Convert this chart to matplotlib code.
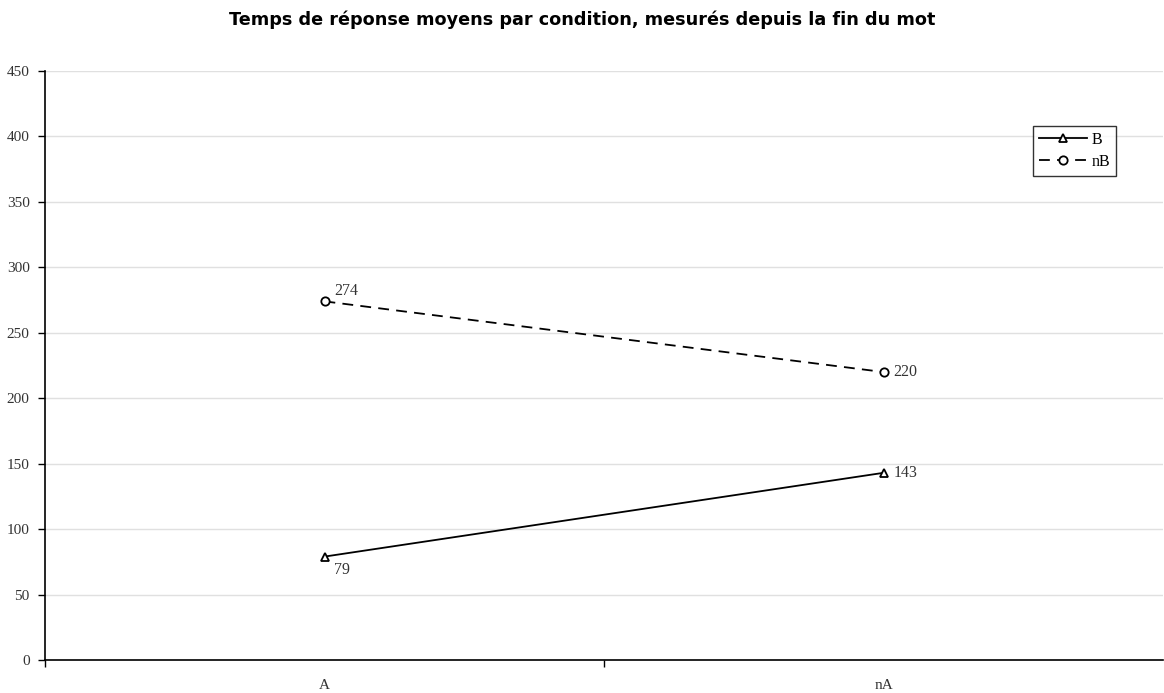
import matplotlib
matplotlib.use("Agg")
import matplotlib.pyplot as plt

categories = ["A", "nA"]
series_B = [79, 143]
series_nB = [274, 220]
yticks = [0, 50, 100, 150, 200, 250, 300, 350, 400, 450]

fig = plt.figure(figsize=(11.64, 6.93), dpi=100)
ax = fig.add_axes([45/1164, 1-660/693, (1163-45)/1164, (660-71)/693])

serif = "Liberation Serif"
x = list(range(len(categories)))
ax.plot(x, series_B, color="black", lw=1.3, marker="^", ms=6, mfc="white", mec="black", mew=1.3, label="B")
ax.plot(x, series_nB, color="black", lw=1.3, ls=(0, (6, 4)), marker="o", ms=6, mfc="white", mec="black", mew=1.3, label="nB")

lab = dict(textcoords="offset points", fontsize=11.5, family=serif, color="#333333")
ax.annotate(str(series_nB[0]), (x[0], series_nB[0]), xytext=(7, 2), va="bottom", ha="left", **lab)
ax.annotate(str(series_B[0]), (x[0], series_B[0]), xytext=(7, -4), va="top", ha="left", **lab)
ax.annotate(str(series_nB[1]), (x[1], series_nB[1]), xytext=(7, 0), va="center", ha="left", **lab)
ax.annotate(str(series_B[1]), (x[1], series_B[1]), xytext=(7, 0), va="center", ha="left", **lab)

ax.set_xlim(-0.5, 1.5)
ax.set_ylim(0, 450)
ax.set_yticks(yticks)
ax.set_yticklabels([str(v) for v in yticks], family=serif, fontsize=11, color="#333333")
ax.set_xticks([-0.5, 0.5])
ax.set_xticklabels([])
ax.set_xticks(x, minor=True)
ax.set_xticklabels(categories, minor=True, family=serif, fontsize=11, color="#333333")
ax.tick_params(axis="x", which="minor", length=0, pad=14)
ax.tick_params(axis="x", which="major", length=5, direction="out", width=1)
ax.tick_params(axis="y", length=5, direction="out", width=1, pad=6)
ax.grid(axis="y", color="#e0e0e0", lw=1)
ax.set_axisbelow(True)
for s in ["top", "right"]:
    ax.spines[s].set_visible(False)
for s in ["left", "bottom"]:
    ax.spines[s].set_color("black")
    ax.spines[s].set_linewidth(1.2)

leg = ax.legend(loc="upper left", bbox_to_anchor=(1033/1164, 1-126/693), bbox_transform=fig.transFigure,
                prop={"family": serif, "size": 11.5}, frameon=True, fancybox=False, edgecolor="black",
                handlelength=3, handletextpad=0.3, borderpad=0.35, labelspacing=0.4, borderaxespad=0)
leg.get_frame().set_linewidth(1.0)

fig.text(0.5, 1-20/693, "Temps de réponse moyens par condition, mesurés depuis la fin du mot",
         ha="center", va="center", fontsize=12.7, fontweight="bold", family="DejaVu Sans")

fig.savefig("out.png", dpi=100)
